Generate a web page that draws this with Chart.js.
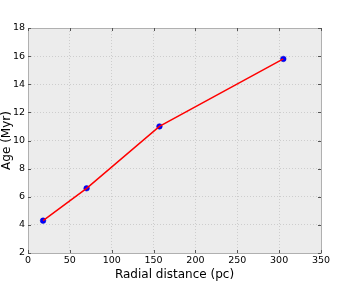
<!DOCTYPE html>
<html><head><meta charset="utf-8">
<script src="https://cdn.jsdelivr.net/npm/chart.js@4"></script>
<style>html,body{margin:0;padding:0;background:#fff}#wrap{width:358px;height:282px}</style>
</head><body><div id="wrap"><canvas id="c" width="358" height="282"></canvas></div>
<script>
const radialDistance = [18, 70, 157, 305];
const ageMyr = [4.3, 6.6, 11.0, 15.8];
const xTickValues = [0, 50, 100, 150, 200, 250, 300, 350];
const yTickValues = [2, 4, 6, 8, 10, 12, 14, 16, 18];

const pts = radialDistance.map((x, i) => ({x, y: ageMyr[i]}));
const FONT = "'DejaVu Sans'";

const bgPlugin = {
  id: 'bg',
  beforeDraw(chart) {
    const {ctx, chartArea: a} = chart;
    ctx.save();
    ctx.fillStyle = '#ececec';
    ctx.fillRect(a.left, a.top, a.right - a.left, a.bottom - a.top);
    ctx.restore();
  },
  afterDatasetsDraw(chart) {
    const {ctx, chartArea: a, scales} = chart;
    ctx.save();
    ctx.strokeStyle = '#b0b0b0';
    ctx.lineWidth = 1;
    ctx.strokeRect(Math.round(a.left) + 0.5, Math.round(a.top) + 0.5, Math.round(a.right - a.left), Math.round(a.bottom - a.top));
    ctx.strokeStyle = '#555';
    ctx.beginPath();
    scales.x.ticks.forEach(t => {
      const px = Math.round(scales.x.getPixelForValue(t.value)) + 0.5;
      ctx.moveTo(px, a.bottom); ctx.lineTo(px, a.bottom - 3);
      ctx.moveTo(px, a.top); ctx.lineTo(px, a.top + 3);
    });
    scales.y.ticks.forEach(t => {
      const py = Math.round(scales.y.getPixelForValue(t.value)) + 0.5;
      ctx.moveTo(a.left, py); ctx.lineTo(a.left + 3, py);
      ctx.moveTo(a.right, py); ctx.lineTo(a.right - 3, py);
    });
    ctx.stroke();
    ctx.restore();
  }
};

new Chart(document.getElementById('c'), {
  type: 'scatter',
  data: {
    datasets: [
      {
        type: 'line', data: pts, borderColor: '#ff0000', borderWidth: 1.5,
        pointRadius: 0, fill: false, tension: 0, order: 1
      },
      {
        type: 'scatter', data: pts, backgroundColor: '#0000ff', borderColor: '#0000cc',
        borderWidth: 0.5, pointRadius: 2.8, order: 2
      }
    ]
  },
  options: {
    responsive: false, animation: false, devicePixelRatio: 1,
    layout: {padding: {left: 0, top: 28, right: 37, bottom: 0}},
    plugins: {legend: {display: false}, tooltip: {enabled: false}},
    scales: {
      x: {
        type: 'linear', min: 0, max: 350,
        afterBuildTicks: s => { s.ticks = xTickValues.map(v => ({value: v})); },
        afterFit: s => { s.height = 29; },
        grid: {color: '#cdcdcd', drawTicks: false},
        border: {display: false, dash: [1, 2]},
        ticks: {color: '#000', font: {family: FONT, size: 9.5}, padding: 2, maxRotation: 0},
        title: {display: true, text: 'Radial distance (pc)', color: '#000', font: {family: FONT, size: 12}, padding: {top: 0, bottom: 0}}
      },
      y: {
        type: 'linear', min: 2, max: 18,
        afterBuildTicks: s => { s.ticks = yTickValues.map(v => ({value: v})); },
        afterFit: s => { s.width = 28; },
        grid: {color: '#cdcdcd', drawTicks: false},
        border: {display: false, dash: [1, 2]},
        ticks: {color: '#000', font: {family: FONT, size: 9.5}, padding: 3},
        title: {display: true, text: 'Age (Myr)', color: '#000', font: {family: FONT, size: 12}, padding: {top: 0, bottom: 0}}
      }
    }
  },
  plugins: [bgPlugin]
});
</script></body></html>
